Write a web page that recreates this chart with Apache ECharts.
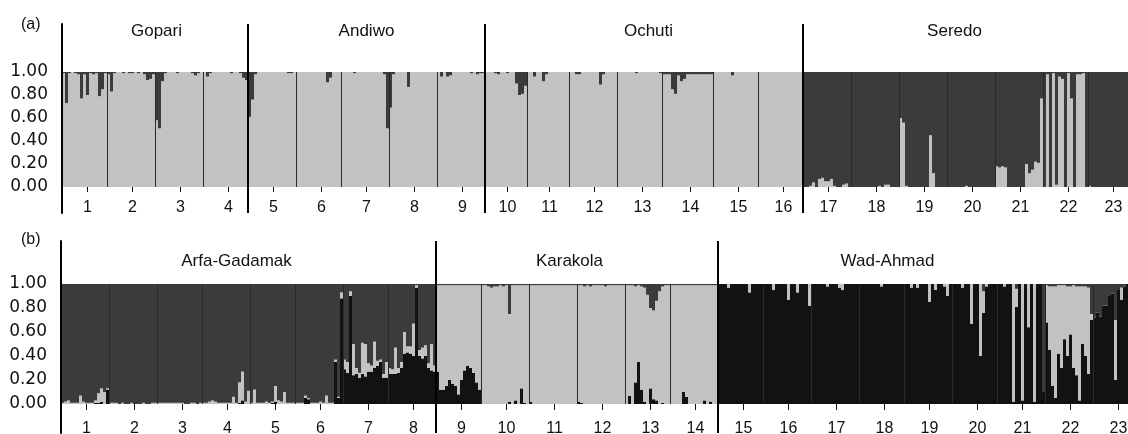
<!DOCTYPE html>
<html><head><meta charset="utf-8">
<script src="https://cdn.jsdelivr.net/npm/echarts@6/dist/echarts.min.js"></script>
<style>html,body{margin:0;padding:0;background:#fff}#c{width:1128px;height:434px}</style>
</head><body><div id="c"></div><script>
// ---------- DATA ----------
const siteLabels = ["1","2","3","4","5","6","7","8","9","10","11","12","13","14","15","16","17","18","19","20","21","22","23"];
const yTicks = [0, 0.2, 0.4, 0.6, 0.8, 1.0];

// Panel (a): two clusters (light, dark). Values = membership in the minority cluster, per individual, grouped by site.
const popsA = ["Gopari", "Andiwo", "Ochuti", "Seredo"];
const gopariDark = [
  [0.01,0.27,0.01,0,0.01,0.02,0.23,0.02,0.2,0.01,0.02,0.01,0.21,0.15,0.01],
  [0.02,0.17,0.01,0,0,0.01,0,0.01,0.01,0,0.01,0,0.02,0.07,0.06,0.02],
  [0.42,0.49,0.08,0.01,0,0,0,0.01,0,0,0,0,0.01,0.03,0.01,0],
  [0,0.04,0.01,0,0,0,0,0,0,0.01,0,0,0.01,0.05,0.07]
];
const andiwoDark = [
  [0.39,0.24,0.02,0,0,0,0,0,0,0,0,0,0,0.01,0.01,0],
  [0,0,0,0,0,0,0,0,0,0,0.09,0.05,0,0,0],
  [0,0,0,0,0.01,0,0,0,0,0,0,0,0,0,0.02,0.49],
  [0.31,0.02,0,0,0,0,0.13,0,0,0,0,0,0,0,0,0],
  [0,0.04,0,0.04,0.03,0,0,0,0,0,0,0.01,0,0.02,0.01,0.01]
];
const ochutiDark = [
  [0,0,0,0.01,0.02,0,0,0.01,0,0,0.1,0.2,0.19,0.12],
  [0,0,0.04,0,0,0.08,0.02,0,0,0,0,0,0,0],
  [0,0,0.02,0.02,0,0,0,0,0,0,0.11,0.02,0,0,0,0],
  [0,0,0,0,0,0,0.01,0,0,0,0,0,0,0,0.01],
  [0.02,0.02,0.02,0.15,0.19,0.03,0.08,0.06,0.02,0.02,0.02,0.02,0.02,0.02,0.02,0.02,0.02],
  [0,0,0,0,0,0,0.03,0,0,0,0,0,0,0,0],
  [0,0,0,0,0,0,0,0,0,0,0,0,0,0,0]
];
const seredoLight = [
  [0,0,0.01,0.04,0,0.07,0.08,0.05,0.05,0.07,0.01,0,0,0.02,0.03,0],
  [0,0,0,0,0,0,0,0,0,0.01,0,0.02,0.02,0,0,0],
  [0.6,0.56,0.01,0,0,0,0,0,0,0,0.45,0.12,0,0,0,0],
  [0,0,0,0,0,0,0.01,0,0,0,0,0,0,0,0,0],
  [0.18,0.17,0.18,0.17,0,0,0,0,0,0,0.2,0.12,0.15,0.22,0.21,0.77],
  [0,0.98,0,0.99,0.02,0.96,0.94,0,0.99,0.77,0,0.98,0.98,0.99,0],
  [0.01,0,0,0,0,0,0,0,0,0,0,0,0,0,0]
];

// Panel (b): three clusters (black, light, dark).
const popsB = ["Arfa-Gadamak", "Karakola", "Wad-Ahmad"];
const arfaBlack = [
  [0,0,0,0,0,0,0,0,0,0,0,0.01,0.01,0.02,0,0.12],
  [0,0,0,0,0,0,0,0,0,0,0,0,0,0,0,0],
  [0,0,0,0,0,0,0,0,0,0,0,0,0,0,0],
  [0,0,0,0,0,0,0,0,0,0,0,0,0.01,0.03,0,0],
  [0,0,0,0,0,0,0,0.01,0.02,0,0,0,0,0,0],
  [0,0,0,0.05,0.04,0,0,0,0,0,0,0,0,0.35,0.05,0.88],
  [0.29,0.26,0.9,0.24,0.25,0.22,0.25,0.23,0.27,0.27,0.3,0.32,0.35,0.22,0.22],
  [0.25,0.25,0.25,0.26,0.3,0.42,0.43,0.42,0.4,0.97,0.4,0.38,0.4,0.3,0.28,0.27]
];
const arfaLight = [
  [0.01,0.02,0.03,0.01,0.01,0.01,0.07,0.02,0.01,0.01,0.01,0.02,0.08,0.11,0.1,0.01],
  [0.01,0.01,0.01,0,0.01,0,0,0.01,0,0,0,0.01,0,0,0.01,0.01],
  [0.01,0.01,0.01,0.01,0.01,0.01,0.01,0.01,0.01,0,0,0.01,0.01,0,0.01],
  [0.01,0.01,0.02,0.03,0.02,0.01,0.01,0.01,0.01,0.01,0.06,0.01,0.17,0.24,0.02,0.11],
  [0.01,0.12,0.01,0.01,0.01,0.02,0.01,0.01,0.13,0.03,0.02,0.1,0.01,0.01,0.01],
  [0.01,0.01,0.01,0.02,0.01,0.01,0.01,0.01,0.02,0.01,0.07,0.01,0.01,0.02,0.01,0.05],
  [0.08,0.09,0.04,0.26,0.05,0.04,0.26,0.27,0.07,0.05,0.22,0.04,0.02,0.03,0.13],
  [0.05,0.04,0.22,0.04,0.05,0.18,0.05,0.06,0.27,0.02,0.05,0.09,0.09,0.04,0.22,0.05]
];
const karakolaBlack = [
  [0.27,0.12,0.12,0.15,0.2,0.17,0.15,0.08,0.2,0.28,0.32,0.3,0.26,0.18,0.12],
  [0,0,0,0,0,0,0,0,0,0.02,0,0.03,0,0.13,0.01,0],
  [0.02,0,0,0,0,0,0,0,0,0,0,0,0,0,0,0],
  [0.02,0.01,0,0,0,0,0,0,0,0,0,0,0,0,0,0],
  [0,0.07,0,0.18,0.35,0.12,0.02,0,0.13,0.04,0.03,0,0.01,0,0],
  [0,0,0,0,0.1,0.06,0,0,0,0,0,0.03,0,0.02,0,0]
];
const karakolaDark = [
  [0.01,0.01,0.01,0.01,0.01,0.01,0.01,0.01,0.01,0.01,0.01,0.01,0.01,0.01,0.01],
  [0.01,0.01,0.02,0.03,0.02,0.02,0.01,0.02,0.01,0.25,0.01,0.01,0.01,0.01,0.01,0.01],
  [0.01,0.01,0.01,0.01,0.01,0.01,0.01,0.01,0.01,0.01,0.01,0.01,0.01,0.01,0.01,0.01],
  [0.01,0.01,0.02,0.01,0.02,0.01,0.01,0.01,0.01,0.02,0.01,0.01,0.01,0.01,0.01,0.01],
  [0.01,0.01,0.01,0.02,0.01,0.02,0.03,0.09,0.2,0.22,0.14,0.06,0.02,0.01,0.01],
  [0.01,0.01,0.01,0.01,0.01,0.01,0.01,0.01,0.01,0.01,0.01,0.01,0.01,0.01,0.01,0.01]
];
const wadLight = [
  [0,0,0,0.03,0,0,0,0,0,0,0.07,0,0,0,0],
  [0,0,0,0.05,0,0,0,0,0.13,0,0,0.07,0,0,0,0.18],
  [0,0,0,0,0,0.02,0,0,0,0.03,0.05,0,0,0,0,0],
  [0,0,0,0,0,0,0,0.02,0,0,0,0,0,0,0],
  [0,0,0.03,0,0.03,0,0,0,0.15,0,0.05,0,0,0.02,0.1,0],
  [0,0,0,0.03,0,0,0.33,0,0,0.6,0.18,0.02,0,0,0],
  [0,0,0.02,0,0,0.98,0.15,0,0.97,0,0.36,0,0.98,0,0,0],
  [0.31,0.53,0.83,0.93,0.57,0.69,0.45,0.58,0.4,0.69,0.74,0.95,0.48,0.58,0.72,0.05],
  [0,0,0,0,0,0,0,0.5,0,0.1,0,0,0,0,0]
];
const wadDark = [
  [0,0,0,0,0,0,0,0,0,0,0,0,0,0,0],
  [0,0,0,0,0,0,0,0,0,0,0,0,0,0,0,0],
  [0,0,0,0,0,0,0,0,0,0,0,0,0,0,0,0],
  [0,0,0,0,0,0,0,0,0,0,0,0,0,0,0],
  [0,0,0,0,0,0,0,0,0,0,0,0,0,0,0,0],
  [0,0,0,0,0,0,0,0,0,0,0.06,0,0,0,0],
  [0,0,0,0,0,0,0.04,0,0,0,0,0,0,0,0,0.9],
  [0.01,0.02,0.02,0.02,0.01,0.01,0.01,0.02,0.02,0.01,0.02,0.02,0.02,0.02,0.03,0.25],
  [0.28,0.24,0.27,0.18,0.18,0.1,0.08,0.3,0.05,0.03,0.02,0,0,0,0]
];

// ---------- BUILD ----------
const FONT = '"Liberation Sans", Arial, Helvetica, sans-serif';
const YFONT = '"DejaVu Sans", sans-serif';
const COLORS = { light: '#c2c2c2', dark: '#3b3b3b', black: '#121212' };

function buildPanel(pops, comps, labelFrac) {
  const out = { cats: [], series: {}, siteStarts: new Set(), tickAt: {}, popStarts: new Set(), popLabelAt: {} };
  comps.forEach(c => out.series[c] = []);
  let s = 0;
  pops.forEach((pop, p) => {
    const p0 = out.cats.length;
    out.popStarts.add(p0);
    const keys = Object.keys(pop.given);
    const nSites = pop.given[keys[0]].length;
    for (let k = 0; k < nSites; k++) {
      const st = out.cats.length;
      out.siteStarts.add(st);
      const n = pop.given[keys[0]][k].length;
      out.tickAt[st + Math.ceil(n / 2)] = siteLabels[s];
      for (let i = 0; i < n; i++) {
        out.cats.push(siteLabels[s] + '.' + (i + 1));
        let sum = 0;
        comps.forEach(c => { if (pop.given[c]) { const v = pop.given[c][k][i]; out.series[c].push(v); sum += v; } });
        comps.forEach(c => { if (!pop.given[c]) out.series[c].push(+Math.max(0, 1 - sum).toFixed(3)); });
      }
      s++;
    }
    out.popLabelAt[p0 + Math.round((out.cats.length - p0) * labelFrac[p])] = pop.name;
  });
  return out;
}

const PA = buildPanel([
  { name: popsA[0], given: { dark: gopariDark } },
  { name: popsA[1], given: { dark: andiwoDark } },
  { name: popsA[2], given: { dark: ochutiDark } },
  { name: popsA[3], given: { light: seredoLight } }
], ['light', 'dark'], [0.5, 0.49, 0.51, 0.45]);

const PB = buildPanel([
  { name: popsB[0], given: { black: arfaBlack, light: arfaLight } },
  { name: popsB[1], given: { black: karakolaBlack, dark: karakolaDark } },
  { name: popsB[2], given: { light: wadLight, dark: wadDark } }
], ['black', 'light', 'dark'], [0.46, 0.47, 0.4]);

const layout = [
  { P: PA, left: 62, top: 72, height: 115, frameTop: 24, frameH: 189, tickLen: 5, labMargin: 13, popMargin: 32, stack: 'A' },
  { P: PB, left: 61, top: 284, height: 120, frameTop: 241, frameH: 192, tickLen: 6, labMargin: 17, popMargin: 14, stack: 'B' }
];

const grid = [], xAxis = [], yAxis = [], series = [];
layout.forEach((L) => {
  const P = L.P;
  const width = P.cats.length * 3;
  const gPlot = grid.length;
  grid.push({ left: L.left, top: L.top, width: width, height: L.height, containLabel: false, outerBoundsMode: 'none' });
  const gFrame = grid.length;
  grid.push({ left: L.left, top: L.frameTop, width: width, height: L.frameH, containLabel: false, outerBoundsMode: 'none' });

  const xPlot = xAxis.length;
  xAxis.push({
    type: 'category', gridIndex: gPlot, data: P.cats, boundaryGap: true, z: 3,
    axisLine: { show: false },
    axisTick: { show: true, alignWithLabel: true, length: L.tickLen, interval: (i) => P.tickAt[i] !== undefined, lineStyle: { color: '#111', width: 1 } },
    axisLabel: { show: true, interval: (i) => P.tickAt[i] !== undefined, formatter: (v, i) => P.tickAt[i] || '', fontSize: 16, fontFamily: FONT, color: '#111', margin: L.labMargin },
    splitLine: { show: true, interval: (i) => i > 0 && P.siteStarts.has(i) && !P.popStarts.has(i), lineStyle: { color: '#2a2a2a', width: 1 } }
  });
  xAxis.push({
    type: 'category', gridIndex: gPlot, position: 'top', data: P.cats, boundaryGap: true,
    axisLine: { show: false }, axisTick: { show: false }, splitLine: { show: false },
    axisLabel: { show: true, interval: (i) => P.popLabelAt[i] !== undefined, formatter: (v, i) => P.popLabelAt[i] || '', fontSize: 17, fontFamily: FONT, color: '#111', margin: L.popMargin }
  });
  xAxis.push({
    type: 'category', gridIndex: gFrame, data: P.cats, boundaryGap: true, z: 4,
    axisLine: { show: false }, axisTick: { show: false }, axisLabel: { show: false },
    splitLine: { show: true, interval: (i) => i > 0 && P.popStarts.has(i), lineStyle: { color: '#000', width: 2 } }
  });
  const yPlot = yAxis.length;
  yAxis.push({
    type: 'value', gridIndex: gPlot, min: yTicks[0], max: yTicks[yTicks.length - 1], interval: 0.2,
    axisLine: { show: false }, axisTick: { show: false }, splitLine: { show: false },
    axisLabel: { formatter: (v) => v.toFixed(2), fontSize: 17, fontFamily: YFONT, color: '#111', margin: 14 }
  });
  yAxis.push({
    type: 'value', gridIndex: gFrame, min: 0, max: 1, z: 4,
    axisLine: { show: true, lineStyle: { color: '#000', width: 2 } },
    axisTick: { show: false }, axisLabel: { show: false }, splitLine: { show: false }
  });
  Object.keys(P.series).forEach(c => {
    series.push({
      type: 'bar', name: L.stack + c, xAxisIndex: xPlot, yAxisIndex: yPlot, stack: L.stack,
      data: P.series[c], barCategoryGap: '0%', barGap: '0%', silent: true,
      itemStyle: { color: COLORS[c] }, emphasis: { disabled: true }
    });
  });
});

const chart = echarts.init(document.getElementById('c'), null, { renderer: 'canvas' });
chart.setOption({
  animation: false,
  backgroundColor: '#fff',
  title: [
    { text: '(a)', left: 21, top: 17, padding: 0, textStyle: { fontSize: 16, fontWeight: 'normal', fontFamily: FONT, color: '#111' } },
    { text: '(b)', left: 21, top: 232, padding: 0, textStyle: { fontSize: 16, fontWeight: 'normal', fontFamily: FONT, color: '#111' } }
  ],
  grid, xAxis, yAxis, series
});
</script></body></html>
